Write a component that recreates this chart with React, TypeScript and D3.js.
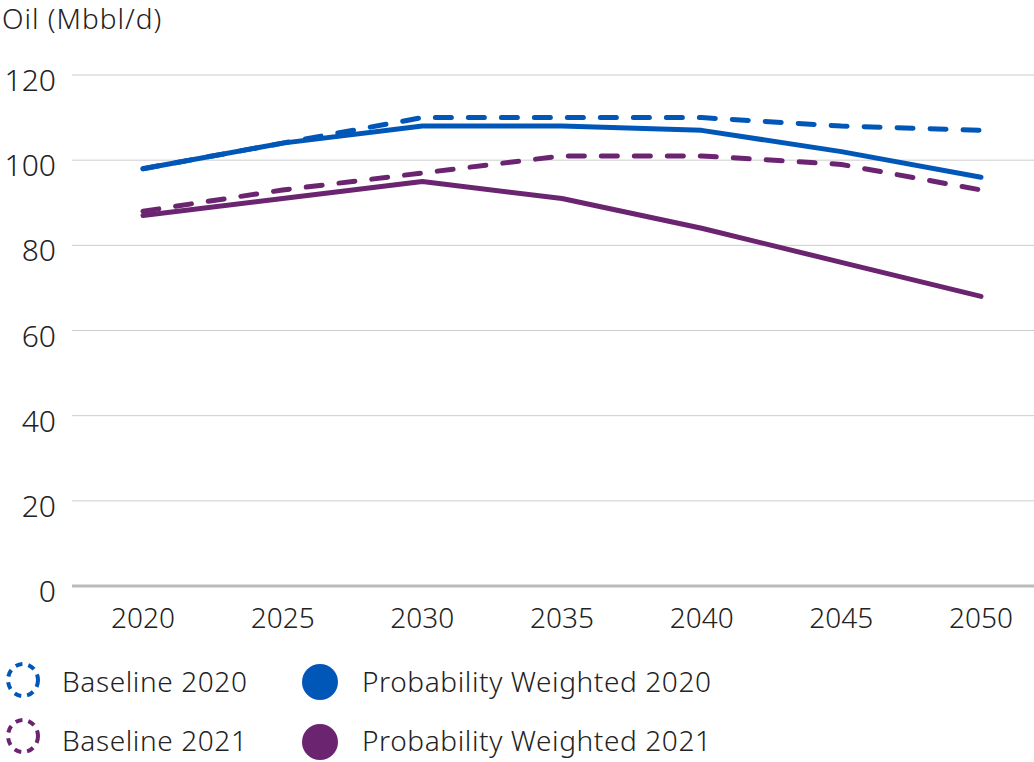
import React from "react";
import * as d3 from "d3";

const years = [2020, 2025, 2030, 2035, 2040, 2045, 2050];
const baseline2020 = [98, 104, 110, 110, 110, 108, 107];
const weighted2020 = [98, 104, 108, 108, 107, 102, 96];
const baseline2021 = [88, 93, 97, 101, 101, 99, 93];
const weighted2021 = [87, 91, 95, 91, 84, 76, 68];
const yTicks = [0, 20, 40, 60, 80, 100, 120];

const BLUE = "#0057b8";
const PURPLE = "#6b2470";

const series = [
  { name: "Baseline 2020", values: baseline2020, color: BLUE, dashed: true },
  { name: "Probability Weighted 2020", values: weighted2020, color: BLUE, dashed: false },
  { name: "Baseline 2021", values: baseline2021, color: PURPLE, dashed: true },
  { name: "Probability Weighted 2021", values: weighted2021, color: PURPLE, dashed: false },
];

export default function App() {
  const W = 1034, H = 762;
  const x = d3.scaleLinear().domain([2020, 2050]).range([143, 981]);
  const y = d3.scaleLinear().domain([0, 120]).range([586, 75]);
  const line = d3.line<number>().x((_, i) => x(years[i])).y((d) => y(d));
  const font = "'Noto Sans', 'Open Sans', sans-serif";

  const legend = [
    { s: series[0], lx: 23, ly: 680, ty: 692 },
    { s: series[1], lx: 320, ly: 682, ty: 692 },
    { s: series[2], lx: 23, ly: 736, ty: 751 },
    { s: series[3], lx: 320, ly: 742, ty: 751 },
  ];

  return (
    <svg width={W} height={H} style={{ position: "absolute", left: 0, top: 0, background: "#fff" }} fontFamily={font} fontWeight={300}>
      <text x={2} y={29} fontSize={28} letterSpacing={1} fill="#222">Oil (Mbbl/d)</text>
      {yTicks.map((t) => (
        <g key={t}>
          {t !== 0 && (
            <line x1={72} x2={1034} y1={y(t)} y2={y(t)} stroke="#cccccc" strokeWidth={1} />
          )}
          <text x={56} y={y(t) + 16} textAnchor="end" fontSize={30} fill="#222">{t}</text>
        </g>
      ))}
      <line x1={72} x2={1034} y1={y(0)} y2={y(0)} stroke="#bbbbbb" strokeWidth={3} />
      {years.map((yr) => (
        <text key={yr} x={x(yr)} y={628} textAnchor="middle" fontSize={28} fill="#222">{yr}</text>
      ))}
      {series.map((s) => (
        <path
          key={s.name}
          d={line(s.values) || ""}
          fill="none"
          stroke={s.color}
          strokeWidth={5}
          strokeLinecap="round"
          strokeLinejoin="round"
          strokeDasharray={s.dashed ? "16 17" : undefined}
        />
      ))}
      {legend.map(({ s, lx, ly, ty }) => (
        <g key={s.name}>
          {s.dashed ? (
            <ellipse cx={lx} cy={ly} rx={15} ry={16} fill="none" stroke={s.color} strokeWidth={4} strokeDasharray="7 6" />
          ) : (
            <ellipse cx={lx} cy={ly} rx={18} ry={18} fill={s.color} />
          )}
          <text x={lx + (s.dashed ? 39 : 42)} y={ty} fontSize={28} letterSpacing={0.6} fill="#222">{s.name}</text>
        </g>
      ))}
    </svg>
  );
}
